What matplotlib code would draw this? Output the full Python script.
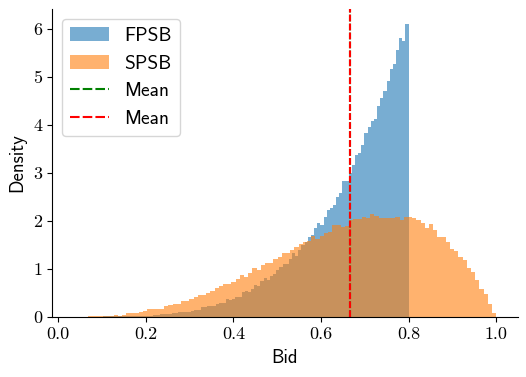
import numpy as np
import matplotlib
matplotlib.use("Agg")
import matplotlib.pyplot as plt
from matplotlib.lines import Line2D
from matplotlib.patches import Patch

# ---- data (density per bin) ----
fpsb_range = (0.08, 0.80)
fpsb_density = [
    0.002, 0.003, 0.003, 0.004, 0.005, 0.005, 0.006, 0.007, 0.008, 0.009,
    0.010, 0.012, 0.015, 0.02, 0.02, 0.02, 0.02, 0.02, 0.02, 0.04,
    0.04, 0.05, 0.06, 0.06, 0.06, 0.08, 0.08, 0.10, 0.10, 0.10,
    0.10, 0.12, 0.14, 0.14, 0.20, 0.20, 0.22, 0.22, 0.22, 0.27,
    0.29, 0.29, 0.37, 0.35, 0.37, 0.41, 0.41, 0.52, 0.54, 0.52,
    0.58, 0.67, 0.65, 0.75, 0.81, 0.77, 0.85, 0.89, 0.98, 1.04,
    1.10, 1.10, 1.21, 1.33, 1.27, 1.39, 1.50, 1.56, 1.66, 1.71,
    1.85, 1.96, 1.92, 2.08, 2.23, 2.27, 2.33, 2.50, 2.58, 2.83,
    2.83, 3.00, 3.17, 3.38, 3.41, 3.58, 3.83, 3.96, 4.08, 4.12,
    4.40, 4.57, 4.71, 4.92, 5.17, 5.27, 5.56, 5.81, 5.75, 6.10,
]
spsb_range = (0.04, 1.00)
spsb_density = [
    0.001, 0.002, 0.003, 0.005, 0.02, 0.02, 0.02, 0.02, 0.02, 0.04,
    0.02, 0.04, 0.07, 0.07, 0.07, 0.09, 0.11, 0.15, 0.15, 0.17,
    0.17, 0.23, 0.25, 0.27, 0.27, 0.32, 0.33, 0.37, 0.41, 0.45,
    0.45, 0.49, 0.54, 0.60, 0.64, 0.68, 0.68, 0.72, 0.78, 0.87,
    0.83, 0.92, 1.01, 0.97, 1.08, 1.12, 1.12, 1.20, 1.24, 1.33,
    1.33, 1.39, 1.45, 1.52, 1.56, 1.58, 1.69, 1.63, 1.69, 1.74,
    1.77, 1.91, 1.92, 1.88, 1.90, 2.02, 2.03, 2.03, 2.08, 2.06,
    2.14, 2.10, 2.06, 2.06, 2.06, 2.06, 2.07, 2.02, 2.08, 2.08,
    2.05, 2.02, 1.96, 1.85, 1.93, 1.81, 1.67, 1.67, 1.56, 1.42,
    1.38, 1.25, 1.19, 1.02, 0.94, 0.77, 0.58, 0.47, 0.27, 0.08,
]
fpsb_mean = 0.666
spsb_mean = 0.667

series_labels = ["FPSB", "SPSB"]
mean_label = "Mean"
x_label = "Bid"
y_label = "Density"
x_ticks = [0.0, 0.2, 0.4, 0.6, 0.8, 1.0]
y_ticks = [0, 1, 2, 3, 4, 5, 6]

# ---- figure ----
fig = plt.figure(figsize=(5.26, 3.77), dpi=100)
ax = fig.add_axes([0.0994, 0.16, 0.8848, 0.8153])

def draw_hist(rng, dens, color, label):
    edges = np.linspace(rng[0], rng[1], len(dens) + 1)
    centers = 0.5 * (edges[:-1] + edges[1:])
    ax.hist(centers, bins=edges, weights=dens, color=color, alpha=0.6,
            label=label)

draw_hist(fpsb_range, fpsb_density, "tab:blue", series_labels[0])
draw_hist(spsb_range, spsb_density, "tab:orange", series_labels[1])

ax.axvline(fpsb_mean, color="green", lw=1.5, ls=(0, (3.2, 1.1)))
ax.axvline(spsb_mean, color="red", lw=1.5, ls=(0, (3.2, 1.1)))

ax.set_xlim(-0.0137, 1.049)
ax.set_ylim(0, 6.41)

ax.set_xticks(x_ticks)
ax.set_xticklabels([f"{t:.1f}" for t in x_ticks], fontfamily="cmr10",
                   fontsize=13)
ax.set_yticks(y_ticks)
ax.set_yticklabels([str(t) for t in y_ticks], fontfamily="cmr10",
                   fontsize=13)

ax.set_xlabel(x_label, fontfamily="cmss10", fontsize=13.5, labelpad=5)
ax.set_ylabel(y_label, fontfamily="cmss10", fontsize=13.5, labelpad=5)

for s in ("top", "right"):
    ax.spines[s].set_visible(False)

handles = [
    Patch(facecolor="tab:blue", alpha=0.6),
    Patch(facecolor="tab:orange", alpha=0.6),
    Line2D([], [], color="green", lw=1.5, ls=(0, (4.6, 1.5))),
    Line2D([], [], color="red", lw=1.5, ls=(0, (4.6, 1.5))),
]
ax.legend(handles, series_labels + [mean_label, mean_label],
          loc="upper left", prop={"family": "cmss10", "size": 14})

fig.savefig("out.png", dpi=100)
